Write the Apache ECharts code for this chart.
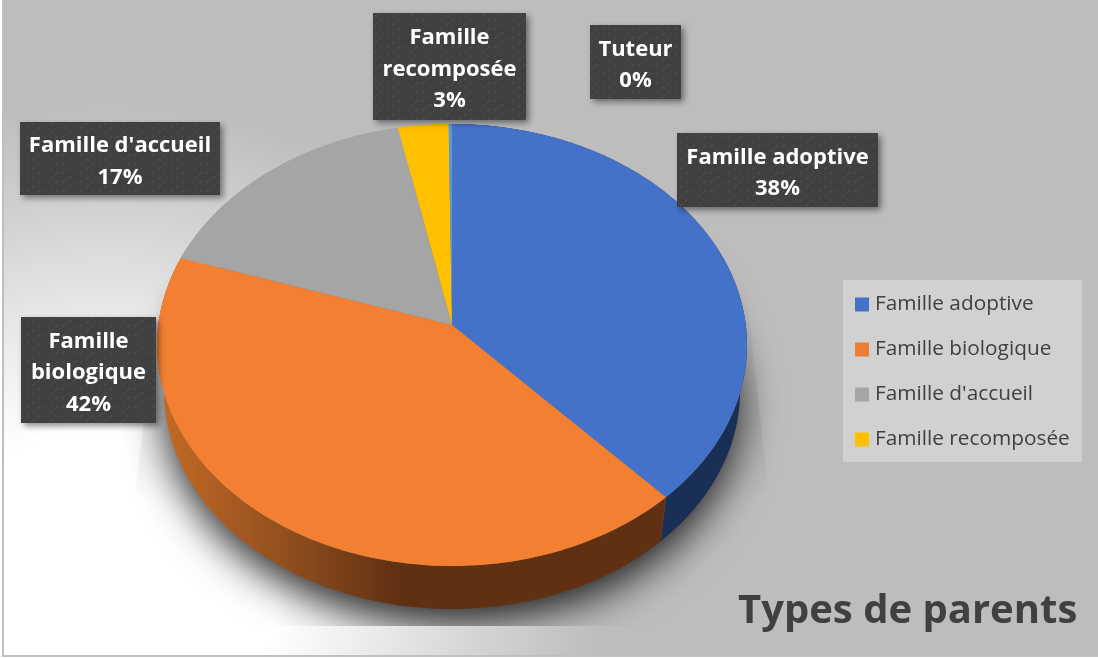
<!DOCTYPE html>
<html>
<head>
<meta charset="utf-8">
<title>Types de parents</title>
<style>
  html, body { margin: 0; padding: 0; background: #fff; }
  #chart { width: 1098px; height: 658px; }
</style>
<script src="https://cdn.jsdelivr.net/npm/echarts@6/dist/echarts.min.js"></script>
</head>
<body>
<div id="chart"></div>
<script>
const categories = ["Famille adoptive", "Famille biologique", "Famille d'accueil", "Famille recomposée", "Tuteur"];
const shares = [38.1, 42.0, 16.7, 3.0, 0.2];
const legendCategories = ["Famille adoptive", "Famille biologique", "Famille d'accueil", "Famille recomposée"];
const labelWraps = [["Famille adoptive"], ["Famille", "biologique"], ["Famille d'accueil"], ["Famille", "recomposée"], ["Tuteur"]];

const legendColors = ["#4472C4", "#ED7D31", "#A5A5A5", "#FFC000", "#5B9BD5"];
const faceColors = ["#4472C8", "#F38032", "#A5A5A5", "#FFC000", "#5B9BD5"];
const FONT = '"Open Sans", "Noto Sans", sans-serif';

// x, y, w, h of each dark label
const labelBoxes = [[677, 133, 201, 74], [21, 317, 135, 106], [20, 122, 200, 73], [373, 13, 153, 107], [590, 25, 91, 74]];

// the top face is an ellipse whose apex sits above its centre, like the perspective of the original
const topRim = { cx: 452, cy: 345, rx: 295, ry: 221 };
const bottomRim = { cx: 452, cy: 391, rx: 288, ry: 218 };
const APEX_SHIFT = -0.09;
const apex = { x: 452, y: 325 };

const total = shares.reduce((a, b) => a + b, 0);
const bounds = [0];
shares.forEach(v => bounds.push(bounds[bounds.length - 1] + v / total));

function project(fraction, e) {
  const a = fraction * Math.PI * 2;
  const x = Math.sin(a), y = -Math.cos(a);
  const d = 1 + APEX_SHIFT * y;
  return [e.cx + e.rx * x * Math.sqrt(1 - APEX_SHIFT * APEX_SHIFT) / d, e.cy + e.ry * (y + APEX_SHIFT) / d];
}

function arc(from, to, e) {
  const pts = [];
  const steps = Math.max(2, Math.ceil((to - from) * 360));
  for (let i = 0; i <= steps; i++) pts.push(project(from + (to - from) * i / steps, e));
  return pts;
}

function wallFill(i) {
  if (i === 0) return "#1A2F55";
  if (i === 1) {
    return {
      type: "linear", x: 157, y: 0, x2: 400, y2: 0, global: true,
      colorStops: [{ offset: 0, color: "#C56B25" }, { offset: 0.5, color: "#94501F" }, { offset: 1, color: "#5F3012" }],
    };
  }
  return faceColors[i];
}

function sliceSeries(name, i) {
  return {
    name,
    type: "custom",
    coordinateSystem: "none",
    silent: true,
    itemStyle: { color: legendColors[i] },
    data: [shares[i]],
    renderItem: () => {
      const from = bounds[i], to = bounds[i + 1];
      const topArc = arc(from, to, topRim);
      const bottomArc = arc(from, to, bottomRim).reverse();
      return {
        type: "group",
        children: [
          { type: "polygon", z2: 2, shape: { points: topArc.concat(bottomArc) }, style: { fill: wallFill(i) } },
          { type: "polygon", z2: 3, shape: { points: [[apex.x, apex.y]].concat(topArc) }, style: { fill: faceColors[i] } },
        ],
      };
    },
  };
}

const shadowSeries = {
  name: "ombre",
  type: "custom",
  coordinateSystem: "none",
  silent: true,
  data: [0],
  renderItem: () => ({
    type: "group",
    children: [
      {
        type: "polygon", z2: 0,
        shape: { points: [[158, 290], [744, 270], [768, 490], [700, 530], [200, 530], [136, 490]] },
        style: {
          fill: {
            type: "linear", x: 0, y: 270, x2: 0, y2: 510, global: true,
            colorStops: [{ offset: 0, color: "rgba(0,0,0,0)" }, { offset: 0.6, color: "rgba(0,0,0,0.07)" }, { offset: 1, color: "rgba(0,0,0,0)" }],
          },
        },
      },
      {
        type: "ellipse", z2: 1,
        shape: { cx: 452, cy: 391, rx: 286, ry: 216 },
        clipPath: { type: "rect", shape: { x: 0, y: 0, width: 1098, height: 626 } },
        style: { fill: "#777", shadowBlur: 42, shadowOffsetY: 16, shadowColor: "rgba(0,0,0,0.85)" },
      },
    ],
  }),
};

function hatch() {
  const c = document.createElement("canvas");
  c.width = 18; c.height = 9;
  const g = c.getContext("2d");
  g.fillStyle = "#404040";
  g.fillRect(0, 0, 18, 9);
  g.strokeStyle = "rgba(255,255,255,0.09)";
  g.beginPath();
  [[1, 4], [8, 3], [14, 8]].forEach(([x, y]) => { g.moveTo(x, y); g.lineTo(x + 3, y - 3); });
  g.stroke();
  return c;
}
const hatchTile = hatch();

const labelSeries = {
  name: "etiquettes",
  type: "custom",
  coordinateSystem: "none",
  silent: true,
  z: 5,
  data: categories.map((_, i) => i),
  renderItem: (params) => {
    const i = params.dataIndex;
    const [x, y, w, h] = labelBoxes[i];
    const pct = Math.round(shares[i] / total * 100) + "%";
    return {
      type: "group",
      children: [
        {
          type: "rect", z2: 1, shape: { x, y, width: w, height: h },
          style: {
            fill: { image: hatchTile, repeat: "repeat" },
            shadowBlur: 6, shadowOffsetX: 3, shadowOffsetY: 3, shadowColor: "rgba(0,0,0,0.45)",
          },
        },
        {
          type: "text", z2: 2,
          style: {
            text: labelWraps[i].concat(pct).join("\n"),
            x: x + w / 2, y: y + h / 2 + 3, align: "center", verticalAlign: "middle",
            fill: "#fff", fontFamily: FONT, fontWeight: "bold", fontSize: 22, lineHeight: 31.5,
          },
        },
      ],
    };
  },
};

const chart = echarts.init(document.getElementById("chart"), null, { renderer: "canvas" });
chart.setOption({
  animation: false,
  backgroundColor: "#fff",
  title: {
    text: "Types de parents",
    left: 738, top: 592, padding: 0,
    textStyle: { color: "#404040", fontFamily: FONT, fontWeight: "bold", fontSize: 40 },
  },
  legend: {
    data: legendCategories,
    orient: "vertical",
    left: 843, top: 280,
    padding: [12, 12, 10, 12],
    backgroundColor: "#D1D1D1",
    icon: "rect",
    itemWidth: 14, itemHeight: 14, itemGap: 20,
    textStyle: { color: "#404040", fontFamily: FONT, fontSize: 20.8, padding: [0, 0, 0, 1], lineHeight: 25 },
  },
  graphic: [{
    type: "rect", z: 0,
    shape: { x: 3, y: -3, width: 1098, height: 659 },
    style: {
      fill: {
        type: "radial", x: 110, y: 590, r: 560, global: true,
        colorStops: [
          { offset: 0, color: "#FFFFFF" }, { offset: 0.3, color: "#FFFFFF" }, { offset: 0.5, color: "#E8E8E8" },
          { offset: 0.68, color: "#D2D2D2" }, { offset: 0.88, color: "#BDBDBD" }, { offset: 1, color: "#BDBDBD" },
        ],
      },
      stroke: "#BFBFBF", lineWidth: 2,
    },
  }],
  series: [shadowSeries].concat(categories.map(sliceSeries), labelSeries),
});
</script>
</body>
</html>
